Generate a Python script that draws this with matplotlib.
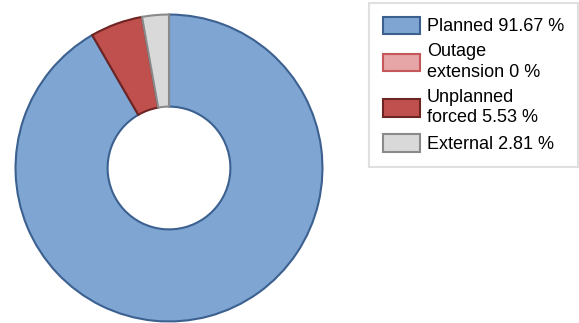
import matplotlib
matplotlib.use("Agg")
import matplotlib.pyplot as plt
from matplotlib.patches import Patch

plt.rcParams["font.family"] = ["Liberation Sans", "DejaVu Sans"]

labels = ["Planned 91.67 %", "Outage\nextension 0 %", "Unplanned\nforced 5.53 %", "External 2.81 %"]
values = [91.67, 0.0, 5.53, 2.81]
face_colors = ["#7fa5d2", "#e6a5a6", "#c0504d", "#d9d9d9"]
edge_colors = ["#3c6190", "#c4585a", "#6e2423", "#8a8a8a"]

fig = plt.figure(figsize=(5.79, 3.23), dpi=100)
W, H = 579, 323
ax = fig.add_axes([14 / W, 0 / H, 310 / W, 310 / H])

# zero-sized wedges are left out of the pie but kept in the legend
shown = [i for i, v in enumerate(values) if v > 0]
wedges, _ = ax.pie([values[i] for i in shown],
                   colors=[face_colors[i] for i in shown],
                   startangle=90, counterclock=False, radius=1.0,
                   wedgeprops=dict(width=0.6, linewidth=1.5))
for w, i in zip(wedges, shown):
    w.set_edgecolor(edge_colors[i])
ax.set_aspect("equal")
ax.set_xlim(-1.01, 1.01)
ax.set_ylim(-1.01, 1.01)

handles = [Patch(facecolor=f, edgecolor=e, linewidth=1.5)
           for f, e in zip(face_colors, edge_colors)]
leg = fig.legend(handles, labels, loc="upper left",
                 bbox_to_anchor=(369 / W, 1 - 3 / H),
                 fontsize=13, frameon=True, fancybox=False,
                 handlelength=2.05, handleheight=1.1, handletextpad=0.4,
                 labelspacing=0.45, borderpad=0.75, borderaxespad=0)
for t in leg.get_texts():
    t.set_linespacing(1.25)
leg.get_frame().set_edgecolor("#d9d9d9")
leg.get_frame().set_linewidth(1.5)

fig.savefig("out.png", dpi=100)
